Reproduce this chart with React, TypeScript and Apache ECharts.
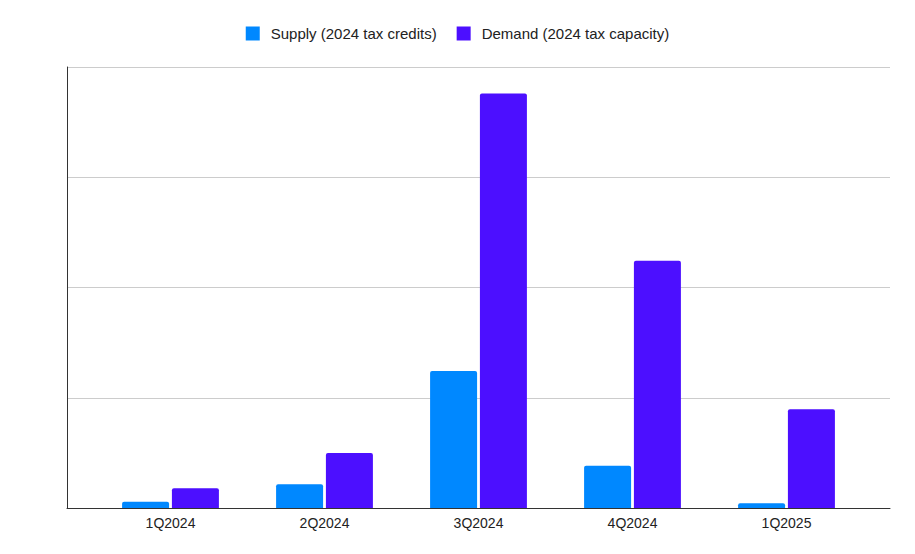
import React, { useEffect, useRef } from "react";
import * as echarts from "echarts";

const categories = ["1Q2024", "2Q2024", "3Q2024", "4Q2024", "1Q2025"];
const supplyValues = [0.057, 0.215, 1.243, 0.384, 0.043];
const demandValues = [0.18, 0.5, 3.76, 2.243, 0.895];
const seriesNames = ["Supply (2024 tax credits)", "Demand (2024 tax capacity)"];

export default function App() {
  const ref = useRef<HTMLDivElement>(null);
  useEffect(() => {
    if (!ref.current) return;
    const chart = echarts.init(ref.current, null, { renderer: "svg" });
    const font = "'Liberation Sans', Arial, sans-serif";
    chart.setOption({
      animation: false,
      backgroundColor: "#ffffff",
      textStyle: { fontFamily: font },
      legend: {
        top: 21,
        left: "center",
        itemWidth: 14,
        itemHeight: 14,
        itemGap: 20,
        icon: "rect",
        textStyle: {
          fontSize: 15,
          color: "#222222",
          fontFamily: font,
          padding: [0, 0, 0, 6],
        },
        data: seriesNames,
      },
      grid: [
        { left: 67, right: 25, top: 67, bottom: 46 },
        { left: 93.5, right: 51.5, top: 67, bottom: 46 },
      ],
      xAxis: [
        {
          type: "category",
          gridIndex: 0,
          data: [""],
          axisLine: { show: true, lineStyle: { color: "#333333", width: 1 } },
          axisTick: { show: false },
          axisLabel: { show: false },
          splitLine: { show: false },
        },
        {
          type: "category",
          gridIndex: 1,
          data: categories,
          axisLine: { show: false },
          axisTick: { show: false },
          axisLabel: { color: "#222222", fontSize: 14, margin: 8, fontFamily: font },
          splitLine: { show: false },
        },
      ],
      yAxis: [
        {
          type: "value",
          gridIndex: 0,
          min: 0,
          max: 4,
          interval: 1,
          axisLine: { show: true, lineStyle: { color: "#333333", width: 1 } },
          axisTick: { show: false },
          axisLabel: { show: false },
          splitLine: { show: true, lineStyle: { color: "#cccccc", width: 1 } },
        },
        {
          type: "value",
          gridIndex: 1,
          min: 0,
          max: 4,
          interval: 1,
          show: false,
          splitLine: { show: false },
        },
      ],
      series: [
        {
          name: seriesNames[0],
          type: "bar",
          xAxisIndex: 1,
          yAxisIndex: 1,
          data: supplyValues,
          barWidth: 47,
          barGap: "6%",
          itemStyle: { color: "#0088ff", borderRadius: [2, 2, 0, 0] },
        },
        {
          name: seriesNames[1],
          type: "bar",
          xAxisIndex: 1,
          yAxisIndex: 1,
          data: demandValues,
          barWidth: 47,
          barGap: "6%",
          itemStyle: { color: "#4c0fff", borderRadius: [2, 2, 0, 0] },
        },
      ],
    });
    return () => chart.dispose();
  }, []);
  return (
    <div
      ref={ref}
      style={{ position: "fixed", left: 0, top: 0, width: 915, height: 554 }}
    />
  );
}
